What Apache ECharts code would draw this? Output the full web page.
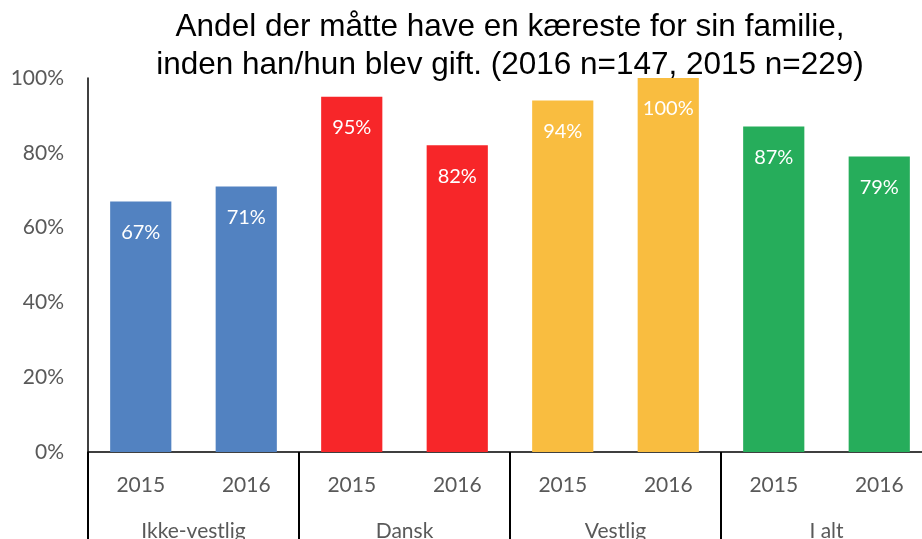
<!DOCTYPE html>
<html>
<head>
<meta charset="utf-8">
<script src="https://cdn.jsdelivr.net/npm/echarts@6/dist/echarts.min.js"></script>
<style>
  html, body { margin: 0; padding: 0; background: #fff; }
  #chart { width: 922px; height: 539px; }
</style>
</head>
<body>
<div id="chart"></div>
<script>
const years = ['2015', '2016', '2015', '2016', '2015', '2016', '2015', '2016'];
const groups = ['Ikke-vestlig', 'Dansk', 'Vestlig', 'I alt'];
const values = [67, 71, 95, 82, 94, 100, 87, 79];
const barColors = ['#5282C1', '#5282C1', '#F72629', '#F72629', '#F9BD40', '#F9BD40', '#26AD5B', '#26AD5B'];
const yTicks = [0, 20, 40, 60, 80, 100];

let myChart = echarts.init(document.getElementById('chart'));
let option = {
  animation: false,
  title: {
    text: 'Andel der måtte have en kæreste for sin familie,\ninden han/hun blev gift. (2016 n=147, 2015 n=229)',
    left: 505,
    top: 3,
    textAlign: 'center',
    textStyle: {
      fontFamily: 'Liberation Sans',
      fontSize: 31.5,
      fontWeight: 'normal',
      color: '#000',
      lineHeight: 38
    }
  },
  grid: { left: 88, width: 844, top: 78, height: 374, outerBoundsMode: 'none', containLabel: false },
  xAxis: [
    {
      type: 'category',
      data: years,
      position: 'bottom',
      axisLine: { show: true, lineStyle: { color: '#000', width: 1.5 } },
      axisTick: { show: false },
      axisLabel: {
        interval: 0,
        margin: 23,
        fontFamily: 'Lato',
        fontSize: 21,
        color: '#595959'
      }
    },
    {
      type: 'category',
      data: groups,
      position: 'bottom',
      axisLine: { show: false },
      axisTick: { show: true, length: 95, interval: 0, lineStyle: { color: '#000', width: 2 } },
      axisLabel: {
        interval: 0,
        margin: 69,
        fontFamily: 'Lato',
        fontSize: 21,
        color: '#595959'
      }
    }
  ],
  yAxis: {
    type: 'value',
    min: 0,
    max: 100,
    interval: 20,
    axisLine: { show: true, lineStyle: { color: '#000', width: 1.5 } },
    axisTick: { show: false },
    splitLine: { show: false },
    axisLabel: {
      margin: 24,
      fontFamily: 'Lato',
      fontSize: 21,
      color: '#595959',
      formatter: function (v) { return yTicks.indexOf(v) >= 0 ? v + '%' : ''; }
    }
  },
  series: [
    {
      type: 'bar',
      xAxisIndex: 0,
      barWidth: '58%',
      data: values.map(function (v, i) {
        return { value: v, itemStyle: { color: barColors[i] } };
      }),
      label: {
        show: true,
        position: 'insideTop',
        distance: 21,
        fontFamily: 'Lato',
        fontSize: 20,
        color: '#fff',
        formatter: '{c}%'
      }
    }
  ]
};
myChart.setOption(option);
window.addEventListener('resize', function () { myChart.resize() })
</script>
</body>
</html>
